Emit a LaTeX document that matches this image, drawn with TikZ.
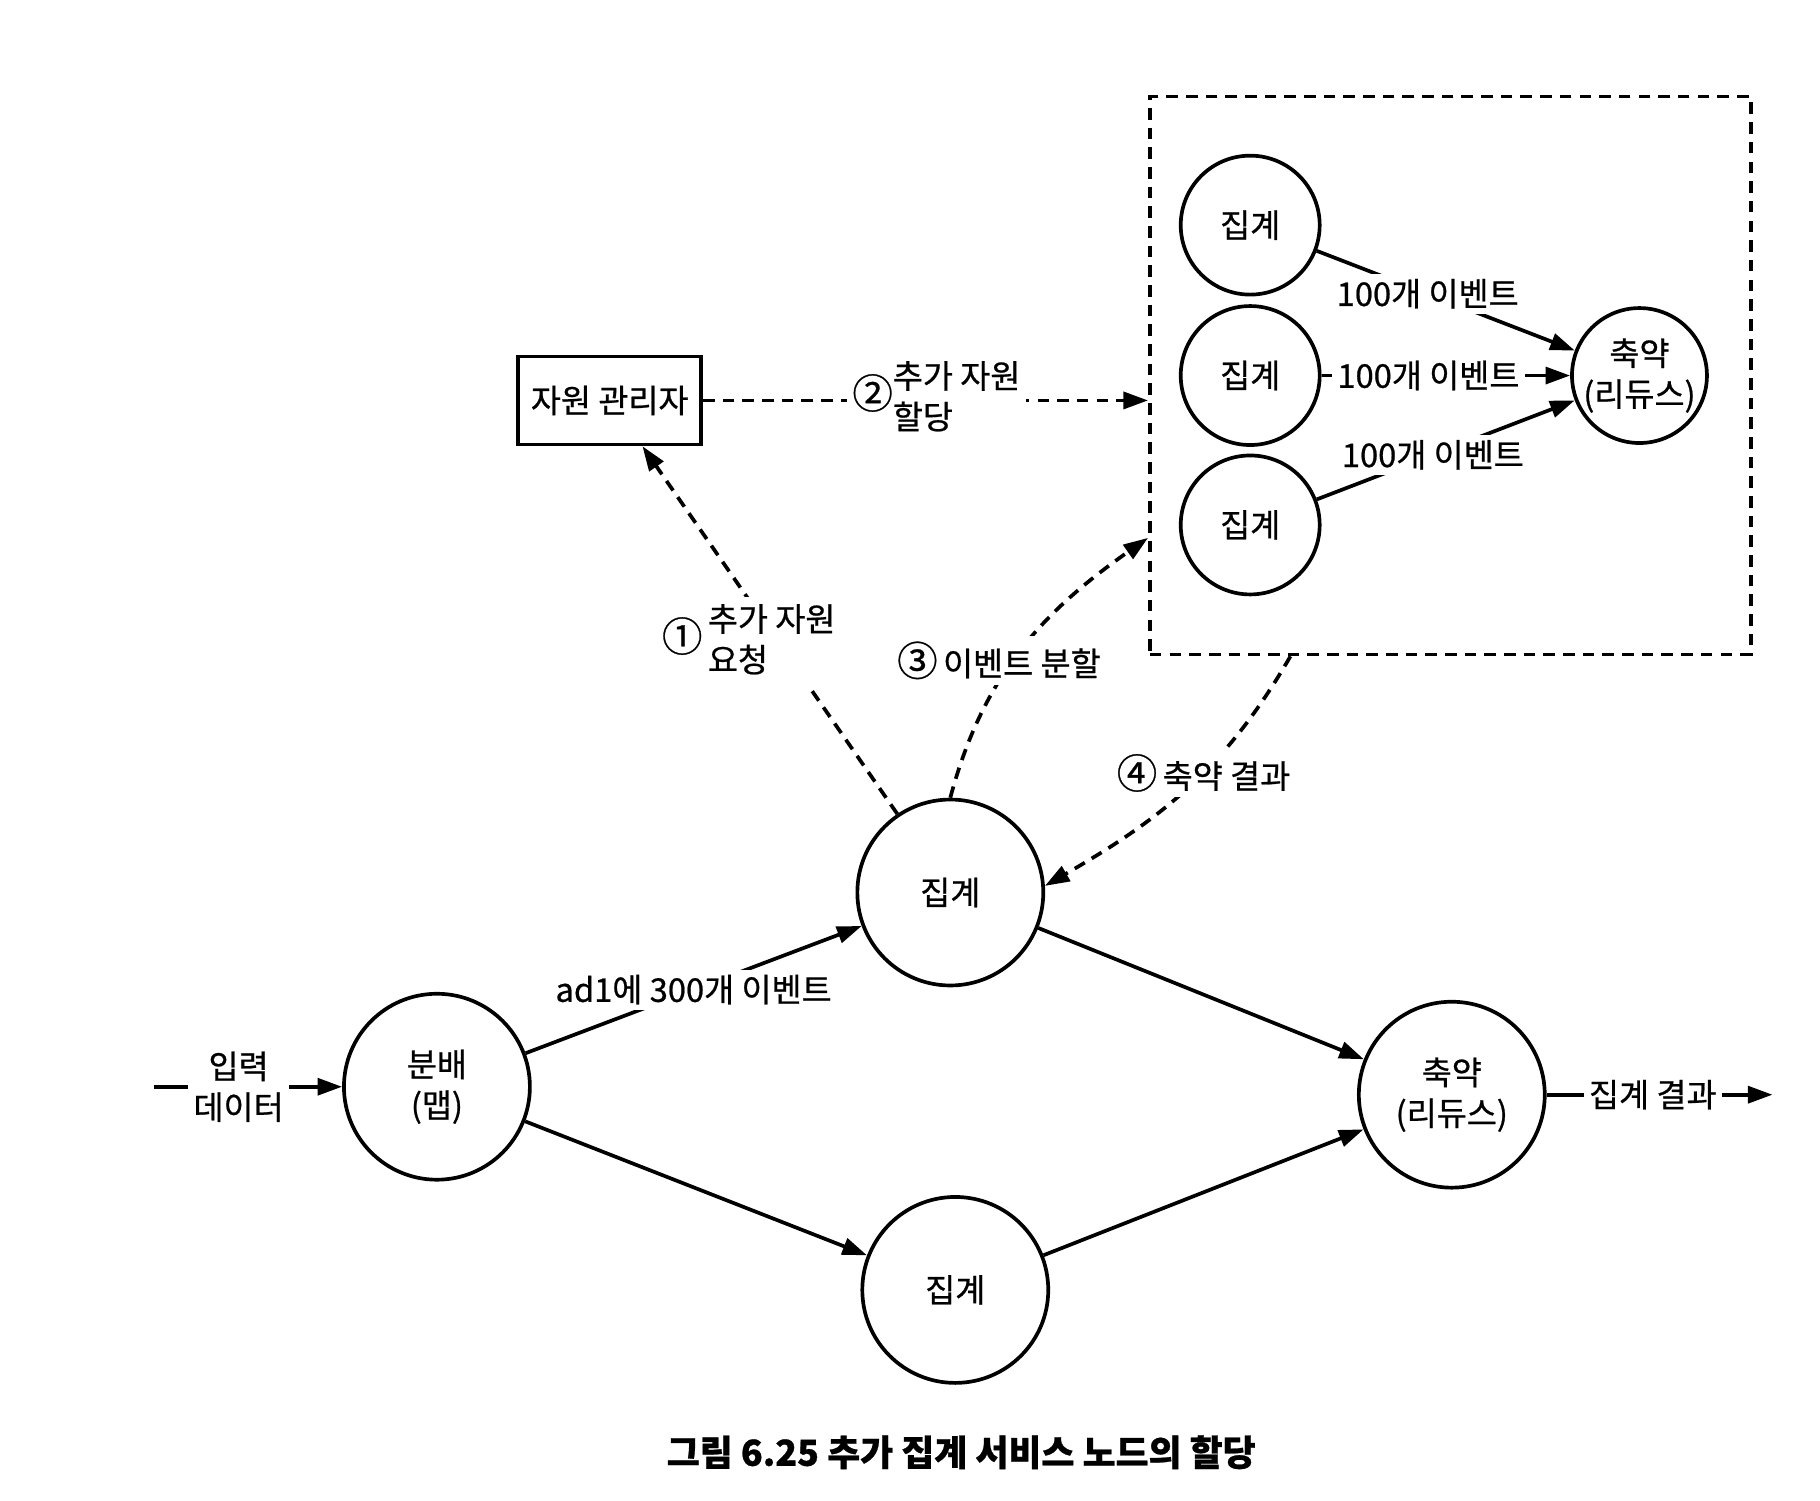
\documentclass[tikz,border=0pt]{standalone}
\usepackage{fontspec}
\setmainfont[FakeBold=0.7]{Noto Sans CJK KR}
\usetikzlibrary{arrows.meta,calc}
\tikzset{
  base/.style={line width=1.05pt},
  bigc/.style={base,draw,circle,minimum size=1.86cm,inner sep=0pt,align=center},
  smallc/.style={base,draw,circle,minimum size=1.39cm,inner sep=0pt,align=center},
  redc/.style={base,draw,circle,minimum size=1.35cm,inner sep=0pt,align=center},
  lbl/.style={fill=white,inner sep=1.5pt,align=center},
  arr/.style={base,-{Triangle[length=7pt,width=4.8pt]}},
  dsh/.style={base,dash pattern=on 3.3pt off 2.3pt},
}
\newcommand{\cnum}[1]{{\fontsize{11.5pt}{11.6pt}\selectfont #1}}
\begin{document}
\begin{tikzpicture}[x=0.00993cm,y=-0.00996cm]
\useasboundingbox (0,0) rectangle (1832.8,1506);
\fontsize{9.3pt}{11.6pt}\selectfont
% dashed cluster
\node[dsh,draw,minimum width=6.01cm,minimum height=5.58cm,inner sep=0pt] (cluster) at (1460.5,377) {};
% small nodes in cluster
\node[smallc] (s1) at (1259,226) {집계};
\node[smallc] (s2) at (1259,377) {집계};
\node[smallc] (s3) at (1259,527) {집계};
\node[redc] (sr) at (1651,377) {축약\\(리듀스)};
\draw[arr] (s1) -- node[lbl,pos=0.43] {100개 이벤트} (sr);
\draw[arr] (s2) -- node[lbl,pos=0.43] {100개 이벤트} (sr);
\draw[arr] (s3) -- node[lbl,pos=0.45] {100개 이벤트} (sr);
% resource manager
\node[base,draw,minimum width=1.83cm,minimum height=0.88cm,inner sep=0pt] (rm) at (614,402) {자원 관리자};
% main nodes
\node[bigc] (dist) at (440,1091) {분배\\(맵)};
\node[bigc] (agg1) at (957,896) {집계};
\node[bigc] (agg2) at (962,1295) {집계};
\node[bigc] (red) at (1462,1099) {축약\\(리듀스)};
\coordinate (in) at (155,1091);
\coordinate (out) at (1785,1099);
% solid connections
\draw[arr] (in) -- node[lbl,pos=0.45] {입력\\데이터} (dist);
\draw[arr] (dist) -- node[lbl,pos=0.5] {ad1에 300개 이벤트} (agg1);
\draw[arr] (dist) -- (agg2);
\draw[arr] (agg1) -- (red);
\draw[arr] (agg2) -- (red);
\draw[arr] (red) -- node[lbl,pos=0.47] {집계 결과} (out);
% dashed connections
\draw[arr,dsh] (agg1.124) -- ($(rm.south)+(33,0)$);
\node[lbl] (l1) at (754,646) {\cnum{①}\,\begin{tabular}{@{}l@{}}추가 자원\\요청\end{tabular}};
\draw[arr,dsh] (rm.east) -- (cluster.west |- rm.east);
\node[lbl] (l2) at (943,402) {\cnum{②}\begin{tabular}{@{}l@{}}추가 자원\\할당\end{tabular}};
\draw[arr,dsh] (agg1.90) to[out=75,in=215] ($(cluster.west)+(0,163)$);
\node[lbl] (l3) at (1006,663) {\cnum{③}\,이벤트 분할};
\draw[arr,dsh] ($(cluster.south)+(-161,0)$) to[out=-120,in=30] (agg1.4);
\node[lbl] (l4) at (1212,776) {\cnum{④}\,축약 결과};
% caption
\node[font=\bfseries\fontsize{10.2pt}{12pt}\selectfont] (title) at (968,1458) {그림 6.25 추가 집계 서비스 노드의 할당};
\end{tikzpicture}
\end{document}
